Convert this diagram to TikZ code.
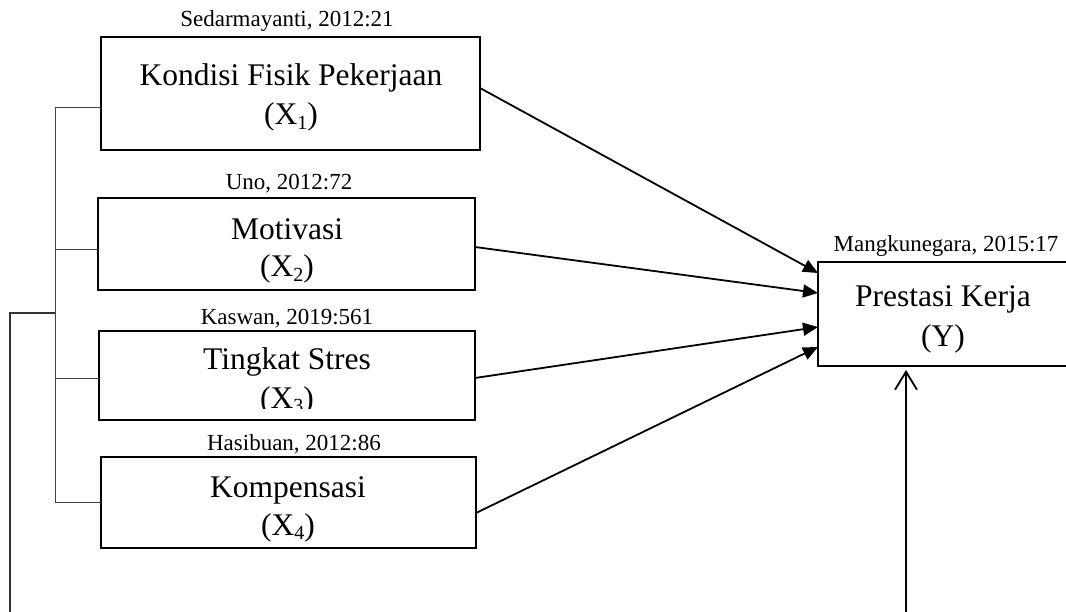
\documentclass[tikz,border=0pt]{standalone}
\usepackage{fontspec}
\setmainfont{Liberation Serif}
\usetikzlibrary{arrows.meta}
\newcommand\sbs[1]{\raisebox{-0.14em}{\fontsize{20}{20}\selectfont #1}}
\tikzset{
  box/.style={draw=black, line width=2pt, minimum width=#1, minimum height=0pt, inner sep=0pt, outer sep=0pt, anchor=north west, rectangle},
  big/.style={font=\fontsize{31.5}{38}\selectfont, anchor=base, inner sep=0pt},
  small/.style={font=\fontsize{23}{27}\selectfont, anchor=base, inner sep=0pt},
  arr/.style={line width=1.8pt, -{Triangle[length=15pt,width=13pt]}},
  openarr/.style={line width=1.8pt, -{Straight Barb[length=18pt,width=22pt,line width=1.8pt]}},
  brk/.style={line width=1pt, draw=black!75},
  brk2/.style={line width=1.4pt, draw=black!80},
}
\begin{document}
\begin{tikzpicture}[x=1pt,y=-1pt]
\useasboundingbox (0,0) rectangle (1066,612);
% boxes
\node[box=379pt, minimum height=113pt] (x1) at (101,37) {};
\node[box=377pt, minimum height=92pt] (x2) at (98,198) {};
\node[box=376pt, minimum height=89pt] (x3) at (99,331) {};
\node[box=375pt, minimum height=91pt] (x4) at (101,457) {};
\node[box=262pt, minimum height=104pt] (y) at (818,262) {};
% source labels
\node[small] (s1) at (287,27) {Sedarmayanti, 2012:21};
\node[small] (s2) at (289,190) {Uno, 2012:72};
\node[small] (s3) at (287,325) {Kaswan, 2019:561};
\node[small] (s4) at (294,450) {Hasibuan, 2012:86};
\node[small] (sy) at (946,252) {Mangkunegara, 2015:17};
% box texts
\node[big] (t1a) at (291,86) {Kondisi Fisik Pekerjaan};
\node[big] (t1b) at (291,125) {(X\sbs{1})};
\node[big] (t2a) at (287,240) {Motivasi};
\node[big] (t2b) at (287,277) {(X\sbs{2})};
\node[big] (t3a) at (287,370) {Tingkat Stres};
\begin{scope}
\clip (0,0) rectangle (1066,408.5);
\node[big] (t3b) at (287,408) {(X\sbs{3})};
\end{scope}
\node[big] (t4a) at (288,497) {Kompensasi};
\node[big] (t4b) at (288,535) {(X\sbs{4})};
\node[big] (tya) at (943,307) {Prestasi Kerja};
\node[big] (tyb) at (943,347) {(Y)};
% arrows into Y
\draw[arr] ([yshift=5.5pt]x1.east) -- ([yshift=41pt]y.west);
\draw[arr] ([yshift=-3pt]x2.east) -- ([yshift=21pt]y.west);
\draw[arr] ([yshift=-2.5pt]x3.east) -- ([yshift=-13pt]y.west);
\draw[arr] ([yshift=-10.5pt]x4.east) -- ([yshift=-33pt]y.west);
% bracket
\coordinate (b1) at ([yshift=-14.5pt]x1.west);
\coordinate (bt) at (55,0 |- b1);
\coordinate (bb) at (bt |- x4.west);
\coordinate (lt) at (bt |- 0,313);
\coordinate (lc) at (10,313);
\coordinate (lb) at (10,612);
\draw[brk] (b1) -- (bt) -- (bb) -- (x4.west);
\draw[brk] ([yshift=-6pt]x2.west) coordinate (b2) -- (b2 -| bt);
\draw[brk] ([yshift=-3.5pt]x3.west) coordinate (b3) -- (b3 -| bt);
\draw[brk2] (lt) -- (lc) -- (lb);
% bottom arrow
\coordinate (ab) at (906,612);
\draw[openarr, shorten >=4pt] (ab) -- (ab |- y.south);
\end{tikzpicture}
\end{document}
